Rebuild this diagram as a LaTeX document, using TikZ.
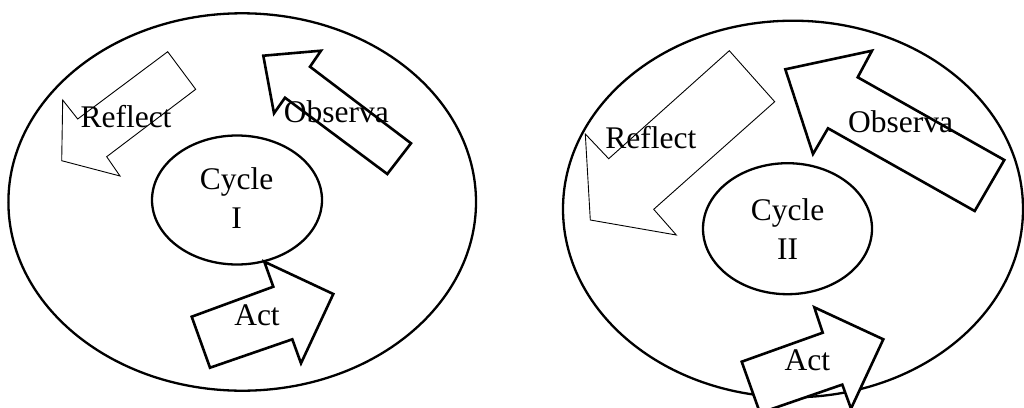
\documentclass[tikz,border=0pt]{standalone}
\usepackage{fontspec}
\setmainfont{Liberation Serif}
\usetikzlibrary{shapes.geometric}
\begin{document}
\begin{tikzpicture}[x=1pt,y=-1pt,
  outer/.style={line width=2.3pt},
  inner/.style={draw,ellipse,line width=2.3pt,inner sep=0pt},
  thinarrow/.style={draw,fill=white,line width=0.9pt,line join=miter},
  thickarrow/.style={draw,fill=white,line width=2.6pt,line join=miter},
  lbl/.style={anchor=base,inner sep=0pt,font=\fontsize{31.5}{37}\selectfont}]
\useasboundingbox (0,0) rectangle (1024,407);
\clip (0,0) rectangle (1024,407);
\fill[white] (0,0) rectangle (1024,407);
% ---------- left cycle ----------
\draw[outer] (242.2,202) ellipse [x radius=233.8pt, y radius=188.7pt];
\node[inner,minimum width=170pt,minimum height=129pt] (c1) at (237,200) {};
\draw[thinarrow] (167.7,51.7) -- (195.7,89.3) -- (106.7,156.7) -- (120,176) -- (61.7,160.7) -- (62.7,100) -- (77.7,119) -- cycle;
\draw[thickarrow] (263.3,55.7) -- (321,50.7) -- (310,66.7) -- (411,143.3) -- (387.3,174) -- (285,97.7) -- (274,113.3) -- cycle;
\draw[thickarrow] (191.7,316.7) -- (273.3,286.7) -- (264.3,261.7) -- (333.3,294) -- (301,363.3) -- (292.3,339.3) -- (210,367.7) -- cycle;
\node[lbl] (r1) at (126,127.3) {Reflect};
\node[lbl] (o1) at (336.3,122.7) {Observa};
\node[lbl] (a1) at (257,325) {Act};
\node[lbl] (t1a) at (236.7,189.3) {Cycle};
\node[lbl] (t1b) at (236.7,228.3) {I};
% ---------- right cycle ----------
\draw[outer] (793,209) ellipse [x radius=230pt, y radius=188.3pt];
\node[inner,minimum width=169pt,minimum height=131pt] (c2) at (787.5,228.7) {};
\draw[thinarrow] (729.3,50.7) -- (774.7,101.7) -- (653.7,209.3) -- (676.3,235) -- (590.3,220) -- (585.3,134) -- (608.7,158.7) -- cycle;
\draw[thickarrow] (785.3,69.3) -- (872,50.7) -- (857.7,77.3) -- (1004.3,160) -- (974.7,211) -- (828,128.3) -- (813,154) -- cycle;
\draw[thickarrow] (741.7,361.7) -- (822.7,332.7) -- (814.3,307.3) -- (883.3,339.3) -- (851,408.6) -- (842.3,384.6) -- (760,413) -- cycle;
\node[lbl] (r2) at (650.8,148.3) {Reflect};
\node[lbl] (o2) at (900.7,132.7) {Observa};
\node[lbl] (a2) at (807.3,370.7) {Act};
\node[lbl] (t2a) at (787.7,220) {Cycle};
\node[lbl] (t2b) at (787.7,259.3) {II};
\end{tikzpicture}
\end{document}
